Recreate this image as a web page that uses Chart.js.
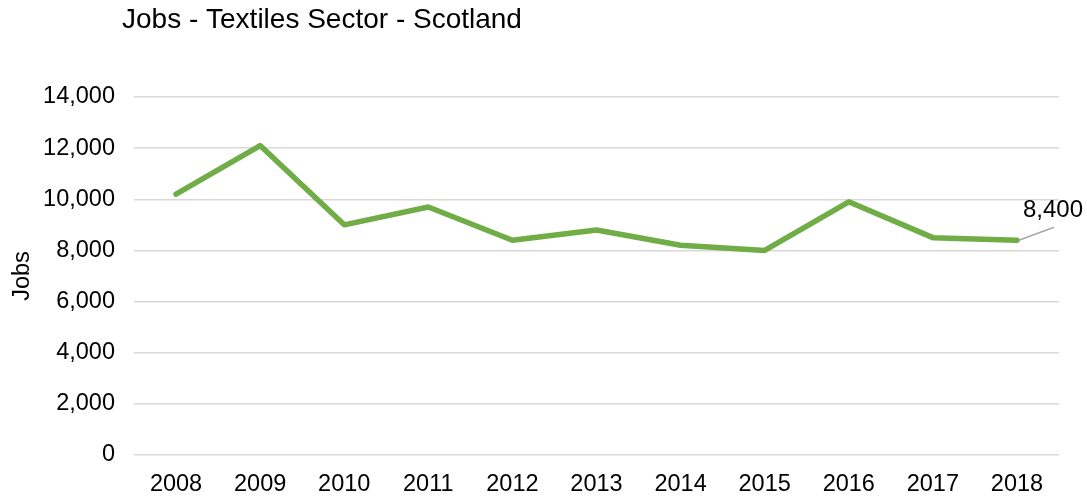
<!DOCTYPE html>
<html>
<head>
<meta charset="utf-8">
<script src="https://cdn.jsdelivr.net/npm/chart.js@4/dist/chart.umd.min.js"></script>
<style>
  html, body { margin: 0; padding: 0; background: #fff; }
  #wrap { width: 1087px; height: 497px; position: relative; }
</style>
</head>
<body>
<div id="wrap"><canvas id="c" width="1087" height="497"></canvas></div>
<script>
// Textiles sector employment in Scotland, by year
const years = ['2008', '2009', '2010', '2011', '2012', '2013', '2014', '2015', '2016', '2017', '2018'];
const jobs = [10200, 12100, 9000, 9700, 8400, 8800, 8200, 8000, 9900, 8500, 8400];
const yTicks = [0, 2000, 4000, 6000, 8000, 10000, 12000, 14000];

const chartTitle = 'Jobs - Textiles Sector - Scotland';
const yAxisTitle = 'Jobs';
const FONT = '"Liberation Sans", Arial, sans-serif';
const TICK_SIZE = 23.5;

const fmt = v => v.toLocaleString('en-US');

// Title text drawn at the top-left of the canvas
const titlePlugin = {
  id: 'titleText',
  afterDraw(chart) {
    const ctx = chart.ctx;
    ctx.save();
    ctx.font = '28px ' + FONT;
    ctx.fillStyle = '#000';
    ctx.textAlign = 'left';
    ctx.textBaseline = 'middle';
    ctx.fillText(chartTitle, 122, 20);
    ctx.restore();
  }
};

// Value callout for the final point, with a thin leader line
const lastLabelPlugin = {
  id: 'lastLabel',
  afterDatasetsDraw(chart) {
    const meta = chart.getDatasetMeta(0);
    const i = meta.data.length - 1;
    const pt = meta.data[i];
    const value = chart.data.datasets[0].data[i];
    const ctx = chart.ctx;
    ctx.save();
    ctx.strokeStyle = '#a6a6a6';
    ctx.lineWidth = 1.5;
    ctx.beginPath();
    ctx.moveTo(pt.x + 2, pt.y);
    ctx.lineTo(pt.x + 37, pt.y - 13);
    ctx.stroke();
    ctx.font = '24px ' + FONT;
    ctx.fillStyle = '#000';
    ctx.textAlign = 'center';
    ctx.textBaseline = 'middle';
    ctx.fillText(fmt(value), pt.x + 36, pt.y - 30);
    ctx.restore();
  }
};

new Chart(document.getElementById('c'), {
  type: 'line',
  data: {
    labels: years,
    datasets: [{
      data: jobs,
      borderColor: '#70AD47',
      backgroundColor: '#70AD47',
      borderWidth: 5.5,
      pointRadius: 0,
      pointHoverRadius: 0,
      tension: 0,
      borderCapStyle: 'round',
      borderJoinStyle: 'round',
      fill: false
    }]
  },
  options: {
    responsive: false,
    animation: false,
    layout: { padding: { top: 97, right: 28, left: 0, bottom: 0 } },
    plugins: {
      legend: { display: false },
      title: { display: false },
      tooltip: { enabled: false }
    },
    scales: {
      x: {
        offset: true,
        grid: { display: false, drawTicks: false },
        border: { display: false },
        ticks: {
          color: '#000',
          font: { family: FONT, size: TICK_SIZE },
          padding: 15,
          maxRotation: 0
        },
        afterFit(scale) { scale.height = 42; }
      },
      y: {
        min: 0,
        max: 14000,
        afterBuildTicks(scale) { scale.ticks = yTicks.map(v => ({ value: v })); },
        grid: { color: '#d9d9d9', lineWidth: 1.5, drawTicks: false },
        border: { display: false },
        ticks: {
          color: '#000',
          font: { family: FONT, size: TICK_SIZE },
          padding: 19,
          callback: v => fmt(v)
        },
        title: {
          display: true,
          text: yAxisTitle,
          color: '#000',
          font: { family: FONT, size: TICK_SIZE },
          padding: { top: 8, bottom: 0 }
        },
        afterFit(scale) { scale.width = 134; }
      }
    }
  },
  plugins: [titlePlugin, lastLabelPlugin]
});
</script>
</body>
</html>
